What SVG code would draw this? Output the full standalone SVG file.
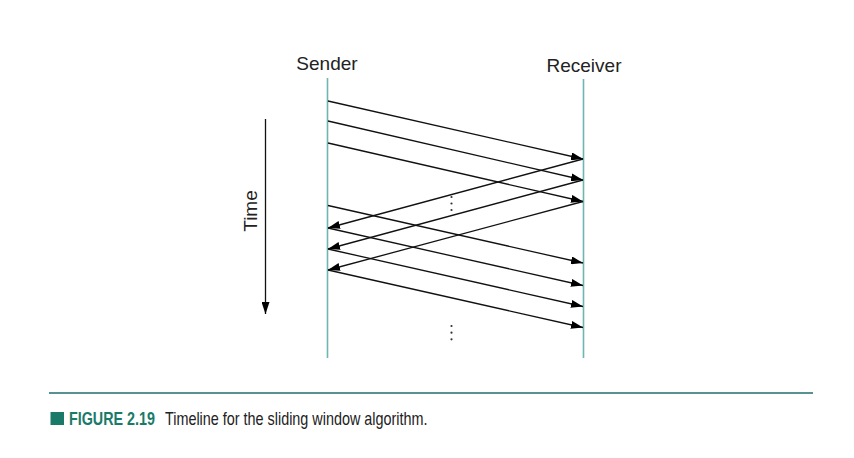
<svg xmlns="http://www.w3.org/2000/svg" width="854" height="458" viewBox="0 0 854 458">
<style>
.lbl{font-family:"Liberation Sans",Arial,sans-serif;font-size:19px;fill:#222}
.life{stroke:#6fb5b0;stroke-width:1.6;fill:none}
.msg{stroke:#111;stroke-width:1.3;fill:none;marker-end:url(#ah)}
.dot{fill:#333}
.cap{font-family:"Liberation Sans",Arial,sans-serif;font-size:18px}
</style>
<defs>
<marker id="ah" viewBox="0 0 12 8" refX="12" refY="4" markerWidth="12" markerHeight="8" markerUnits="userSpaceOnUse" orient="auto">
<path d="M0,0 L12,4 L0,8 Z" fill="#000"/>
</marker>
</defs>
<rect width="854" height="458" fill="#fff"/>
<g id="sender">
<text class="lbl" x="327" y="70" text-anchor="middle">Sender</text>
<line class="life" x1="327.5" y1="78" x2="327.5" y2="358"/>
</g>
<g id="receiver">
<text class="lbl" x="584" y="72" text-anchor="middle">Receiver</text>
<line class="life" x1="583.5" y1="79" x2="583.5" y2="358"/>
</g>
<g id="time">
<line x1="265.5" y1="119" x2="265.5" y2="314" stroke="#111" stroke-width="1.3" marker-end="url(#ah)"/>
<text class="lbl" transform="translate(257,211) rotate(-90)" text-anchor="middle">Time</text>
</g>
<g id="connectors">
<line class="msg" x1="328" y1="101" x2="583" y2="159"/>
<line class="msg" x1="328" y1="121" x2="583" y2="180"/>
<line class="msg" x1="328" y1="143" x2="583" y2="201.5"/>
<line class="msg" x1="583" y1="159" x2="328" y2="228"/>
<line class="msg" x1="583" y1="180" x2="328" y2="249"/>
<line class="msg" x1="583" y1="201.5" x2="328" y2="270"/>
<line class="msg" x1="328" y1="205.5" x2="583" y2="263"/>
<line class="msg" x1="328" y1="228" x2="583" y2="285.5"/>
<line class="msg" x1="328" y1="249" x2="583" y2="306.5"/>
<line class="msg" x1="328" y1="270" x2="583" y2="327.5"/>
</g>
<g id="dots">
<circle class="dot" cx="451.5" cy="197" r="1.1"/>
<circle class="dot" cx="451.5" cy="203.5" r="1.1"/>
<circle class="dot" cx="451.5" cy="210" r="1.1"/>
<circle class="dot" cx="451.5" cy="326" r="1.1"/>
<circle class="dot" cx="451.5" cy="332.7" r="1.1"/>
<circle class="dot" cx="451.5" cy="339.3" r="1.1"/>
</g>
<g id="caption">
<line x1="49" y1="393" x2="813" y2="393" stroke="#1f6e69" stroke-width="1.3"/>
<rect x="50.5" y="412" width="13.5" height="13" fill="#1a7a6a"/>
<text class="cap" transform="translate(69,425) scale(0.796,1)" font-weight="bold" fill="#1a7a6a">FIGURE 2.19</text>
<text class="cap" transform="translate(165,425) scale(0.8,1)" fill="#222">Timeline for the sliding window algorithm.</text>
</g>
</svg>
